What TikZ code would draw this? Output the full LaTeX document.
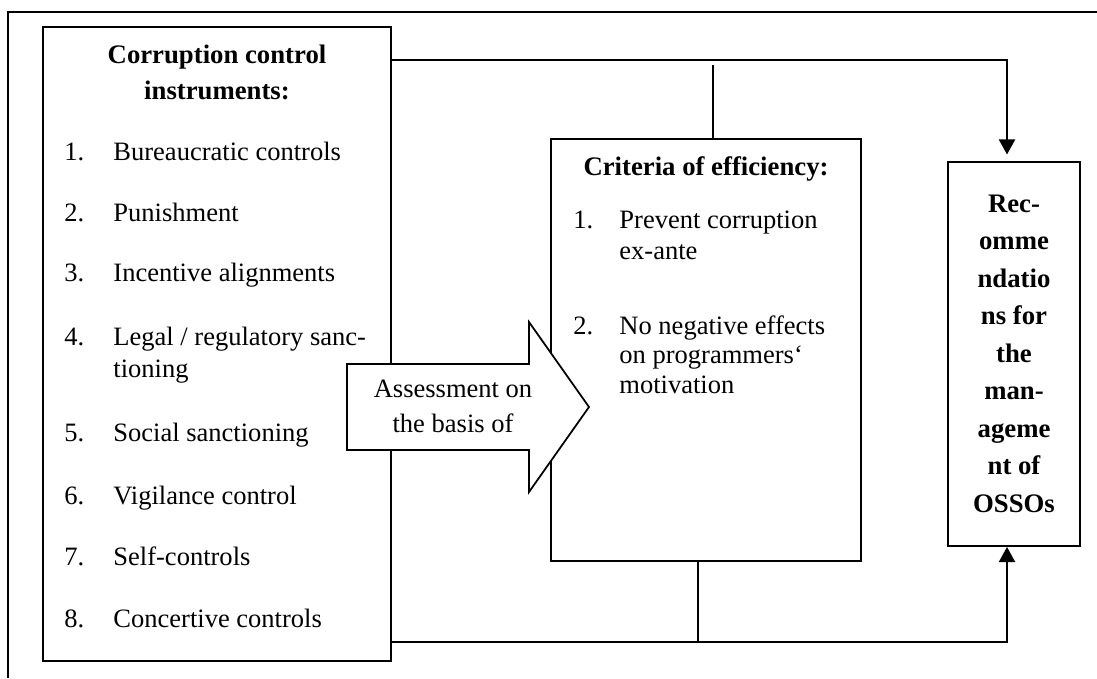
\documentclass[tikz,border=0pt]{standalone}
\usepackage{fontspec}
\setmainfont{Liberation Serif}
\usetikzlibrary{arrows.meta,fit}

\begin{document}
\begin{tikzpicture}[x=0.46pt,y=-0.46pt,
  font=\fontsize{12.2}{14.7}\selectfont,
  box/.style={draw,line width=0.5pt,inner sep=0pt},
  txt/.style={anchor=base west,inner sep=0pt},
  head/.style={anchor=base,inner sep=0pt,font=\fontsize{12.3}{14.7}\selectfont\bfseries},
  conn/.style={line width=0.8pt},
  tip/.style={-{Triangle[length=7pt,width=7.5pt]}}]
\useasboundingbox (0,0) rectangle (1097,678);
% frame
\draw[line width=0.8pt] (8,678) -- (8,12) -- (1097,12);
% boxes
\node[box,fit={(43,27) (391,661)}] (instr) {};
\node[box,fit={(551,139) (861,561)}] (crit) {};
\node[box,line width=0.9pt,fit={(948,162) (1080,546)}] (rec) {};
% instruments
\node[head] (instrA) at (217,63) {Corruption control};
\node[head] (instrB) at (217,99) {instruments:};
\foreach \n/\t/\y in {1/Bureaucratic controls/160,2/Punishment/221,3/Incentive alignments/281,4/{Legal / regulatory sanc-}/345,5/Social sanctioning/441,6/Vigilance control/504,7/Self-controls/565,8/Concertive controls/627} {
  \node[txt] (num\n) at (64,\y) {\n.};
  \node[txt] (item\n) at (113,\y) {\t};
}
\node[txt] (item4b) at (113,377) {tioning};
% criteria
\node[head] (critA) at (706,175) {Criteria of efficiency:};
\node[txt] (cnum1) at (573,228) {1.};
\node[txt] (crit1a) at (619,228) {Prevent corruption};
\node[txt] (crit1b) at (619,259) {ex-ante};
\node[txt] (cnum2) at (573,334) {2.};
\node[txt] (crit2a) at (619,334) {No negative effects};
\node[txt] (crit2b) at (619,363) {on programmers‘};
\node[txt] (crit2c) at (619,393) {motivation};
% recommendations
\foreach \t [count=\i] in {Rec-,omme,ndatio,ns for,the,man-,ageme,nt of,OSSOs} {
  \node[head] (rec\i) at (1014,174.5+37.5*\i) {\t};
}
% connectors
\coordinate (topy) at (0,60);
\coordinate (boty) at (0,642);
\coordinate (rx) at (1007,0);
\coordinate (jt) at (713,65);
\coordinate (jb) at (698,642);
\draw[conn,tip,shorten >=3pt] (instr.east |- topy) -| (rx |- rec.north);
\draw[conn,tip] (instr.east |- boty) -| (rx |- rec.south);
\draw[conn] (jt) -- (jt |- crit.north);
\draw[conn] (jb) -- (jb |- crit.south);
% assessment arrow
\draw[line width=0.8pt,fill=white] (347,364) -- (529,364) -- (529,322) -- (589,407)
  -- (529,492) -- (529,450) -- (347,450) -- cycle;
\node[anchor=base,inner sep=0pt] (assessA) at (453,397) {Assessment on};
\node[anchor=base,inner sep=0pt] (assessB) at (453,432) {the basis of};
\end{tikzpicture}
\end{document}
